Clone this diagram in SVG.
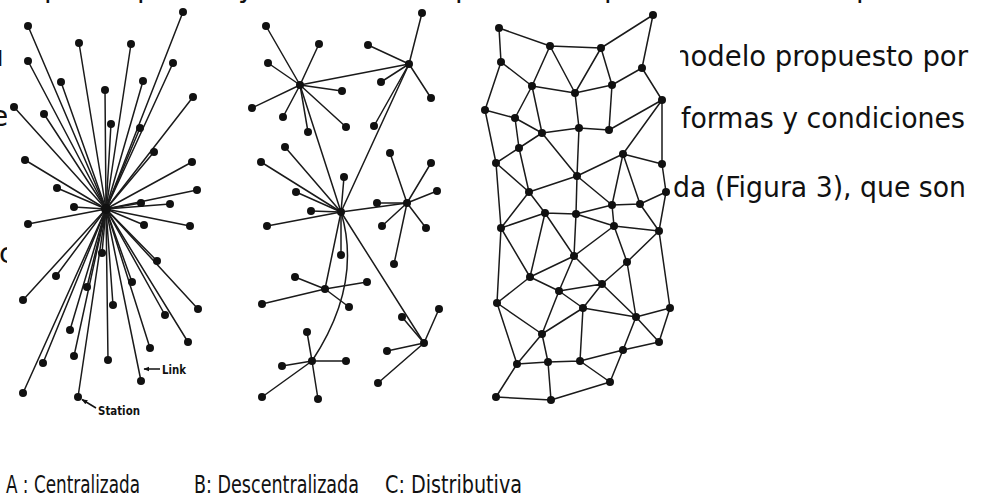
<svg xmlns="http://www.w3.org/2000/svg" xmlns:xlink="http://www.w3.org/1999/xlink" width="986" height="497" viewBox="0 0 986 497">
  <style>
    .edge { stroke: #1a1a1a; stroke-width: 1.5; fill: none; stroke-linecap: round; }
    .txt { font-family: "DejaVu Sans", "Noto Sans", sans-serif; fill: #111; }
    .para { font-size: 28px; }
    .cap { font-size: 24px; }
    .lbl { font-family: "DejaVu Sans", "Liberation Sans", sans-serif; font-size: 13px; font-weight: bold; fill: #111; }
    .ptr { stroke: #111; stroke-width: 1.5; fill: none; }
  </style>
  <defs>
    <circle id="dot" r="4" fill="#111"/>
    <marker id="tip" viewBox="0 0 10 10" refX="9" refY="5" markerWidth="6" markerHeight="6" orient="auto" markerUnits="userSpaceOnUse">
      <path d="M0,1 L10,5 L0,9 Z" fill="#111"/>
    </marker>
    <clipPath id="rightClip"><rect x="680" y="0" width="306" height="497"/></clipPath>
    <clipPath id="leftClip"><rect x="0" y="0" width="7" height="497"/></clipPath>
  </defs>
  <rect width="986" height="497" fill="#ffffff"/>

  <!-- surrounding paragraph text, partly hidden behind the figure -->
  <g id="paragraph" class="txt para">
    <text x="44" y="-3">p</text>
    <text x="137" y="-3">p</text>
    <text x="238" y="-3">y</text>
    <text x="455" y="-3">p</text>
    <text x="604" y="-3">p</text>
    <text x="856" y="-3">p</text>
    <g clip-path="url(#leftClip)">
      <text x="-14" y="66">u</text>
      <text x="-9" y="126">e</text>
      <text x="-1" y="263">c</text>
    </g>
    <text x="673" y="66" textLength="295" lengthAdjust="spacingAndGlyphs" clip-path="url(#rightClip)">nodelo propuesto por</text>
    <text x="681" y="128" textLength="284" lengthAdjust="spacingAndGlyphs">formas y condiciones</text>
    <text x="673" y="197" textLength="293" lengthAdjust="spacingAndGlyphs">da (Figura 3), que son</text>
  </g>

  <!-- A: centralized network -->
  <g id="connectors-a" class="edge">
    <line x1="106" y1="209" x2="183" y2="12"/>
    <line x1="106" y1="209" x2="28" y2="26"/>
    <line x1="106" y1="209" x2="79" y2="43"/>
    <line x1="106" y1="209" x2="131" y2="44"/>
    <line x1="106" y1="209" x2="28" y2="61"/>
    <line x1="106" y1="209" x2="173" y2="63"/>
    <line x1="106" y1="209" x2="61" y2="82"/>
    <line x1="106" y1="209" x2="143" y2="81"/>
    <line x1="106" y1="209" x2="105" y2="90"/>
    <line x1="106" y1="209" x2="193" y2="97"/>
    <line x1="106" y1="209" x2="14" y2="107"/>
    <line x1="106" y1="209" x2="44" y2="114"/>
    <line x1="106" y1="209" x2="111" y2="124"/>
    <line x1="106" y1="209" x2="140" y2="128"/>
    <line x1="106" y1="209" x2="154" y2="152"/>
    <line x1="106" y1="209" x2="25" y2="160"/>
    <line x1="106" y1="209" x2="192" y2="162"/>
    <line x1="106" y1="209" x2="57" y2="188"/>
    <line x1="106" y1="209" x2="197" y2="190"/>
    <line x1="106" y1="209" x2="141" y2="203"/>
    <line x1="106" y1="209" x2="170" y2="204"/>
    <line x1="106" y1="209" x2="74" y2="207"/>
    <line x1="106" y1="209" x2="28" y2="224"/>
    <line x1="106" y1="209" x2="144" y2="225"/>
    <line x1="106" y1="209" x2="190" y2="226"/>
    <line x1="106" y1="209" x2="102" y2="253"/>
    <line x1="106" y1="209" x2="157" y2="261"/>
    <line x1="106" y1="209" x2="56" y2="276"/>
    <line x1="106" y1="209" x2="132" y2="282"/>
    <line x1="106" y1="209" x2="87" y2="287"/>
    <line x1="106" y1="209" x2="23" y2="300"/>
    <line x1="106" y1="209" x2="113" y2="305"/>
    <line x1="106" y1="209" x2="198" y2="309"/>
    <line x1="106" y1="209" x2="165" y2="315"/>
    <line x1="106" y1="209" x2="70" y2="330"/>
    <line x1="106" y1="209" x2="188" y2="342"/>
    <line x1="106" y1="209" x2="150" y2="348"/>
    <line x1="106" y1="209" x2="74" y2="356"/>
    <line x1="106" y1="209" x2="108" y2="360"/>
    <line x1="106" y1="209" x2="43" y2="363"/>
    <line x1="106" y1="209" x2="141" y2="381"/>
    <line x1="106" y1="209" x2="23" y2="393"/>
    <line x1="106" y1="209" x2="78" y2="397"/>
  </g>
  <g id="a-hub"><circle cx="106" cy="209" r="5" fill="#111"/></g>
  <g id="a-n1"><use href="#dot" x="183" y="12"/></g>
  <g id="a-n2"><use href="#dot" x="28" y="26"/></g>
  <g id="a-n3"><use href="#dot" x="79" y="43"/></g>
  <g id="a-n4"><use href="#dot" x="131" y="44"/></g>
  <g id="a-n5"><use href="#dot" x="28" y="61"/></g>
  <g id="a-n6"><use href="#dot" x="173" y="63"/></g>
  <g id="a-n7"><use href="#dot" x="61" y="82"/></g>
  <g id="a-n8"><use href="#dot" x="143" y="81"/></g>
  <g id="a-n9"><use href="#dot" x="105" y="90"/></g>
  <g id="a-n10"><use href="#dot" x="193" y="97"/></g>
  <g id="a-n11"><use href="#dot" x="14" y="107"/></g>
  <g id="a-n12"><use href="#dot" x="44" y="114"/></g>
  <g id="a-n13"><use href="#dot" x="111" y="124"/></g>
  <g id="a-n14"><use href="#dot" x="140" y="128"/></g>
  <g id="a-n15"><use href="#dot" x="154" y="152"/></g>
  <g id="a-n16"><use href="#dot" x="25" y="160"/></g>
  <g id="a-n17"><use href="#dot" x="192" y="162"/></g>
  <g id="a-n18"><use href="#dot" x="57" y="188"/></g>
  <g id="a-n19"><use href="#dot" x="197" y="190"/></g>
  <g id="a-n20"><use href="#dot" x="141" y="203"/></g>
  <g id="a-n21"><use href="#dot" x="170" y="204"/></g>
  <g id="a-n22"><use href="#dot" x="74" y="207"/></g>
  <g id="a-n23"><use href="#dot" x="28" y="224"/></g>
  <g id="a-n24"><use href="#dot" x="144" y="225"/></g>
  <g id="a-n25"><use href="#dot" x="190" y="226"/></g>
  <g id="a-n26"><use href="#dot" x="102" y="253"/></g>
  <g id="a-n27"><use href="#dot" x="157" y="261"/></g>
  <g id="a-n28"><use href="#dot" x="56" y="276"/></g>
  <g id="a-n29"><use href="#dot" x="132" y="282"/></g>
  <g id="a-n30"><use href="#dot" x="87" y="287"/></g>
  <g id="a-n31"><use href="#dot" x="23" y="300"/></g>
  <g id="a-n32"><use href="#dot" x="113" y="305"/></g>
  <g id="a-n33"><use href="#dot" x="198" y="309"/></g>
  <g id="a-n34"><use href="#dot" x="165" y="315"/></g>
  <g id="a-n35"><use href="#dot" x="70" y="330"/></g>
  <g id="a-n36"><use href="#dot" x="188" y="342"/></g>
  <g id="a-n37"><use href="#dot" x="150" y="348"/></g>
  <g id="a-n38"><use href="#dot" x="74" y="356"/></g>
  <g id="a-n39"><use href="#dot" x="108" y="360"/></g>
  <g id="a-n40"><use href="#dot" x="43" y="363"/></g>
  <g id="a-n41"><use href="#dot" x="141" y="381"/></g>
  <g id="a-n42"><use href="#dot" x="23" y="393"/></g>
  <g id="a-n43"><use href="#dot" x="78" y="397"/></g>
  <g id="a-legend">
    <line class="ptr" x1="160" y1="369" x2="144" y2="369" marker-end="url(#tip)"/>
    <text class="lbl" x="162" y="374" textLength="24" lengthAdjust="spacingAndGlyphs">Link</text>
    <line class="ptr" x1="96" y1="408" x2="82" y2="399.5" marker-end="url(#tip)"/>
    <text class="lbl" x="98" y="415" textLength="42" lengthAdjust="spacingAndGlyphs">Station</text>
  </g>

  <!-- B: decentralized network -->
  <g id="connectors-b" class="edge">
    <line x1="300" y1="85" x2="266" y2="26"/>
    <line x1="300" y1="85" x2="319" y2="44"/>
    <line x1="300" y1="85" x2="268" y2="63"/>
    <line x1="300" y1="85" x2="342" y2="91"/>
    <line x1="300" y1="85" x2="252" y2="108"/>
    <line x1="300" y1="85" x2="283" y2="117"/>
    <line x1="300" y1="85" x2="346" y2="127"/>
    <line x1="300" y1="85" x2="308" y2="132"/>
    <line x1="409" y1="64" x2="422" y2="13"/>
    <line x1="409" y1="64" x2="368" y2="45"/>
    <line x1="409" y1="64" x2="381" y2="82"/>
    <line x1="409" y1="64" x2="431" y2="98"/>
    <line x1="409" y1="64" x2="374" y2="126"/>
    <line x1="341" y1="212" x2="261" y2="162"/>
    <line x1="341" y1="212" x2="285" y2="147"/>
    <line x1="341" y1="212" x2="296" y2="192"/>
    <line x1="341" y1="212" x2="344" y2="177"/>
    <line x1="341" y1="212" x2="311" y2="211"/>
    <line x1="341" y1="212" x2="267" y2="226"/>
    <line x1="341" y1="212" x2="341" y2="255"/>
    <line x1="407" y1="203" x2="390" y2="153"/>
    <line x1="407" y1="203" x2="431" y2="163"/>
    <line x1="407" y1="203" x2="437" y2="191"/>
    <line x1="407" y1="203" x2="377" y2="203"/>
    <line x1="407" y1="203" x2="382" y2="226"/>
    <line x1="407" y1="203" x2="426" y2="228"/>
    <line x1="407" y1="203" x2="394" y2="264"/>
    <line x1="325" y1="289" x2="295" y2="277"/>
    <line x1="325" y1="289" x2="367" y2="282"/>
    <line x1="325" y1="289" x2="262" y2="304"/>
    <line x1="325" y1="289" x2="349" y2="307"/>
    <line x1="312" y1="361" x2="307" y2="332"/>
    <line x1="312" y1="361" x2="282" y2="366"/>
    <line x1="312" y1="361" x2="346" y2="361"/>
    <line x1="312" y1="361" x2="262" y2="397"/>
    <line x1="312" y1="361" x2="318" y2="399"/>
    <line x1="424" y1="343" x2="402" y2="317"/>
    <line x1="424" y1="343" x2="439" y2="309"/>
    <line x1="424" y1="343" x2="387" y2="351"/>
    <line x1="424" y1="343" x2="378" y2="383"/>
    <line x1="300" y1="85" x2="409" y2="64"/>
    <line x1="300" y1="85" x2="341" y2="212"/>
    <line x1="409" y1="64" x2="341" y2="212"/>
    <line x1="341" y1="212" x2="407" y2="203"/>
    <line x1="341" y1="212" x2="325" y2="289"/>
    <line x1="341" y1="212" x2="424" y2="343"/>
    <path d="M341,212 C353,252 351,302 312,361"/>
  </g>
  <g id="b-h1"><use href="#dot" x="300" y="85"/></g>
  <g id="b-h2"><use href="#dot" x="409" y="64"/></g>
  <g id="b-h3"><use href="#dot" x="341" y="212"/></g>
  <g id="b-h4"><use href="#dot" x="407" y="203"/></g>
  <g id="b-h5"><use href="#dot" x="325" y="289"/></g>
  <g id="b-h6"><use href="#dot" x="312" y="361"/></g>
  <g id="b-h7"><use href="#dot" x="424" y="343"/></g>
  <g id="b-n1"><use href="#dot" x="266" y="26"/></g>
  <g id="b-n2"><use href="#dot" x="319" y="44"/></g>
  <g id="b-n3"><use href="#dot" x="268" y="63"/></g>
  <g id="b-n4"><use href="#dot" x="342" y="91"/></g>
  <g id="b-n5"><use href="#dot" x="252" y="108"/></g>
  <g id="b-n6"><use href="#dot" x="283" y="117"/></g>
  <g id="b-n7"><use href="#dot" x="346" y="127"/></g>
  <g id="b-n8"><use href="#dot" x="308" y="132"/></g>
  <g id="b-n9"><use href="#dot" x="422" y="13"/></g>
  <g id="b-n10"><use href="#dot" x="368" y="45"/></g>
  <g id="b-n11"><use href="#dot" x="381" y="82"/></g>
  <g id="b-n12"><use href="#dot" x="431" y="98"/></g>
  <g id="b-n13"><use href="#dot" x="374" y="126"/></g>
  <g id="b-n14"><use href="#dot" x="261" y="162"/></g>
  <g id="b-n15"><use href="#dot" x="285" y="147"/></g>
  <g id="b-n16"><use href="#dot" x="296" y="192"/></g>
  <g id="b-n17"><use href="#dot" x="344" y="177"/></g>
  <g id="b-n18"><use href="#dot" x="311" y="211"/></g>
  <g id="b-n19"><use href="#dot" x="267" y="226"/></g>
  <g id="b-n20"><use href="#dot" x="341" y="255"/></g>
  <g id="b-n21"><use href="#dot" x="390" y="153"/></g>
  <g id="b-n22"><use href="#dot" x="431" y="163"/></g>
  <g id="b-n23"><use href="#dot" x="437" y="191"/></g>
  <g id="b-n24"><use href="#dot" x="377" y="203"/></g>
  <g id="b-n25"><use href="#dot" x="382" y="226"/></g>
  <g id="b-n26"><use href="#dot" x="426" y="228"/></g>
  <g id="b-n27"><use href="#dot" x="394" y="264"/></g>
  <g id="b-n28"><use href="#dot" x="295" y="277"/></g>
  <g id="b-n29"><use href="#dot" x="367" y="282"/></g>
  <g id="b-n30"><use href="#dot" x="262" y="304"/></g>
  <g id="b-n31"><use href="#dot" x="349" y="307"/></g>
  <g id="b-n32"><use href="#dot" x="307" y="332"/></g>
  <g id="b-n33"><use href="#dot" x="282" y="366"/></g>
  <g id="b-n34"><use href="#dot" x="346" y="361"/></g>
  <g id="b-n35"><use href="#dot" x="262" y="397"/></g>
  <g id="b-n36"><use href="#dot" x="318" y="399"/></g>
  <g id="b-n37"><use href="#dot" x="402" y="317"/></g>
  <g id="b-n38"><use href="#dot" x="439" y="309"/></g>
  <g id="b-n39"><use href="#dot" x="387" y="351"/></g>
  <g id="b-n40"><use href="#dot" x="378" y="383"/></g>

  <!-- C: distributed mesh -->
  <g id="connectors-c" class="edge">
    <path d="M499,28 L550,46 M499,28 L501,62 M550,46 L601,48 M601,48 L653,15 M653,15 L642,68
             M550,46 L532,86 M550,46 L575,93 M601,48 L575,93 M601,48 L612,85 M642,68 L612,85
             M642,68 L662,100 M501,62 L532,86 M501,62 L485,110 M532,86 L575,93 M575,93 L612,85
             M532,86 L515,118 M532,86 L542,133 M575,93 L579,128 M612,85 L609,130 M662,100 L609,130
             M662,100 L623,154 M662,100 L662,164 M485,110 L515,118 M485,110 L496,163 M515,118 L542,133
             M515,118 L519,148 M542,133 L579,128 M579,128 L609,130 M542,133 L519,148 M542,133 L577,176
             M519,148 L496,163 M519,148 L529,192 M579,128 L577,176 M623,154 L662,164 M623,154 L577,176
             M623,154 L612,205 M623,154 L640,204 M662,164 L666,192 M496,163 L529,192 M577,176 L529,192
             M577,176 L612,205 M612,205 L640,204 M640,204 L666,192 M496,163 L501,228 M529,192 L501,228
             M529,192 L545,213 M577,176 L576,214"/>
    <path d="M501,228 L545,213 M545,213 L576,214 M576,214 L612,205 M612,205 L614,226 M640,204 L659,231
             M666,192 L659,231 M576,214 L614,226 M614,226 L659,231 M576,214 L574,256 M545,213 L574,256
             M545,213 L530,277 M501,228 L530,277 M501,228 L497,303 M614,226 L574,256 M614,226 L627,262
             M659,231 L627,262 M659,231 L670,308 M574,256 L530,277 M574,256 L559,291 M574,256 L602,284
             M627,262 L602,284 M627,262 L636,317 M530,277 L559,291 M530,277 L497,303 M559,291 L602,284
             M559,291 L583,308 M559,291 L542,334 M602,284 L583,308 M602,284 L636,317 M583,308 L636,317
             M583,308 L542,334 M583,308 L580,361 M670,308 L636,317 M670,308 L659,342 M636,317 L659,342
             M636,317 L623,350 M497,303 L542,334 M497,303 L517,364 M542,334 L517,364 M542,334 L548,362
             M517,364 L548,362 M548,362 L580,361 M580,361 L623,350 M623,350 L659,342 M580,361 L610,382
             M623,350 L610,382 M517,364 L496,397 M548,362 L551,400 M496,397 L551,400 M551,400 L610,382"/>
  </g>
  <g id="c-a"><use href="#dot" x="499" y="28"/></g>
  <g id="c-b"><use href="#dot" x="550" y="46"/></g>
  <g id="c-c"><use href="#dot" x="601" y="48"/></g>
  <g id="c-d"><use href="#dot" x="653" y="15"/></g>
  <g id="c-e"><use href="#dot" x="501" y="62"/></g>
  <g id="c-f"><use href="#dot" x="642" y="68"/></g>
  <g id="c-g"><use href="#dot" x="532" y="86"/></g>
  <g id="c-h"><use href="#dot" x="575" y="93"/></g>
  <g id="c-i"><use href="#dot" x="612" y="85"/></g>
  <g id="c-j"><use href="#dot" x="662" y="100"/></g>
  <g id="c-k"><use href="#dot" x="485" y="110"/></g>
  <g id="c-l"><use href="#dot" x="515" y="118"/></g>
  <g id="c-m"><use href="#dot" x="542" y="133"/></g>
  <g id="c-n"><use href="#dot" x="579" y="128"/></g>
  <g id="c-o"><use href="#dot" x="609" y="130"/></g>
  <g id="c-p"><use href="#dot" x="519" y="148"/></g>
  <g id="c-q"><use href="#dot" x="623" y="154"/></g>
  <g id="c-r"><use href="#dot" x="496" y="163"/></g>
  <g id="c-s"><use href="#dot" x="662" y="164"/></g>
  <g id="c-t"><use href="#dot" x="577" y="176"/></g>
  <g id="c-u"><use href="#dot" x="529" y="192"/></g>
  <g id="c-v"><use href="#dot" x="666" y="192"/></g>
  <g id="c-w"><use href="#dot" x="612" y="205"/></g>
  <g id="c-x"><use href="#dot" x="640" y="204"/></g>
  <g id="c-y"><use href="#dot" x="501" y="228"/></g>
  <g id="c-z"><use href="#dot" x="545" y="213"/></g>
  <g id="c-aa"><use href="#dot" x="576" y="214"/></g>
  <g id="c-bb"><use href="#dot" x="614" y="226"/></g>
  <g id="c-cc"><use href="#dot" x="659" y="231"/></g>
  <g id="c-dd"><use href="#dot" x="574" y="256"/></g>
  <g id="c-ee"><use href="#dot" x="627" y="262"/></g>
  <g id="c-ff"><use href="#dot" x="530" y="277"/></g>
  <g id="c-gg"><use href="#dot" x="559" y="291"/></g>
  <g id="c-hh"><use href="#dot" x="602" y="284"/></g>
  <g id="c-ii"><use href="#dot" x="497" y="303"/></g>
  <g id="c-jj"><use href="#dot" x="583" y="308"/></g>
  <g id="c-kk"><use href="#dot" x="670" y="308"/></g>
  <g id="c-ll"><use href="#dot" x="636" y="317"/></g>
  <g id="c-mm"><use href="#dot" x="542" y="334"/></g>
  <g id="c-nn"><use href="#dot" x="659" y="342"/></g>
  <g id="c-oo"><use href="#dot" x="623" y="350"/></g>
  <g id="c-pp"><use href="#dot" x="517" y="364"/></g>
  <g id="c-qq"><use href="#dot" x="548" y="362"/></g>
  <g id="c-rr"><use href="#dot" x="580" y="361"/></g>
  <g id="c-ss"><use href="#dot" x="610" y="382"/></g>
  <g id="c-tt"><use href="#dot" x="496" y="397"/></g>
  <g id="c-uu"><use href="#dot" x="551" y="400"/></g>

  <!-- captions -->
  <g id="captions" class="txt cap">
    <text x="6" y="493" textLength="134" lengthAdjust="spacingAndGlyphs">A : Centralizada</text>
    <text x="194" y="493" textLength="165" lengthAdjust="spacingAndGlyphs">B: Descentralizada</text>
    <text x="385" y="493" textLength="137" lengthAdjust="spacingAndGlyphs">C: Distributiva</text>
  </g>
</svg>
